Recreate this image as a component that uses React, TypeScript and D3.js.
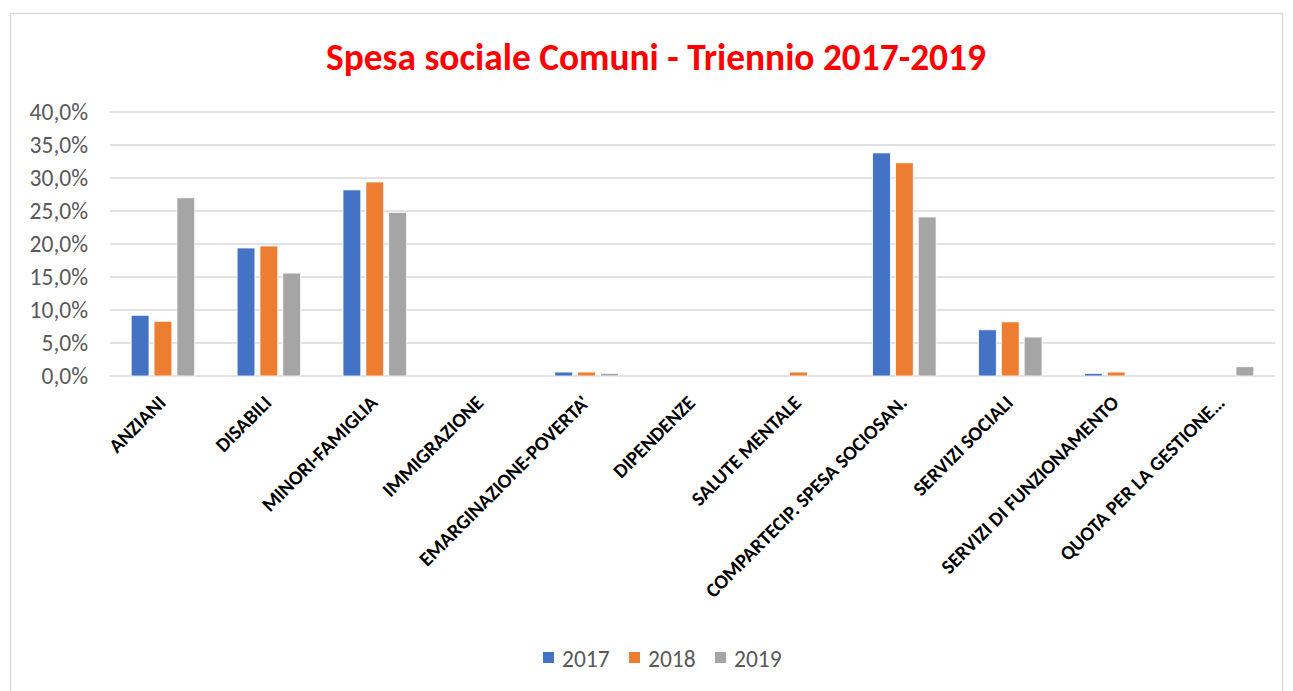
import React from "react";
import * as d3 from "d3";

const categories = [
  "ANZIANI",
  "DISABILI",
  "MINORI-FAMIGLIA",
  "IMMIGRAZIONE",
  "EMARGINAZIONE-POVERTA'",
  "DIPENDENZE",
  "SALUTE MENTALE",
  "COMPARTECIP. SPESA SOCIOSAN.",
  "SERVIZI SOCIALI",
  "SERVIZI DI FUNZIONAMENTO",
  "QUOTA PER LA GESTIONE…",
];
const years = ["2017", "2018", "2019"];
const colors = ["#4472c4", "#ed7d31", "#a5a5a5"];
const v2017 = [9.2, 19.4, 28.2, 0, 0.6, 0, 0, 33.8, 7.0, 0.4, 0];
const v2018 = [8.3, 19.7, 29.4, 0, 0.6, 0, 0.6, 32.3, 8.2, 0.6, 0];
const v2019 = [27.0, 15.6, 24.8, 0, 0.4, 0, 0, 24.1, 5.9, 0, 1.4];
const yTicks = [0, 5, 10, 15, 20, 25, 30, 35, 40];

const W = 1293;
const H = 691;
const left = 110;
const right = 1275;
const top = 112;
const bottom = 376;

export default function App() {
  const series = [v2017, v2018, v2019];
  const x = d3.scaleBand().domain(categories).range([left, right]).paddingInner(0.4).paddingOuter(0.2);
  const inner = d3.scaleBand().domain(years).range([0, x.bandwidth()]).paddingInner(0.22);
  const y = d3.scaleLinear().domain([0, 40]).range([bottom, top]);
  const fmt = (v: number) => v.toFixed(1).replace(".", ",") + "%";
  const font = "Carlito, Calibri, 'Open Sans', sans-serif";

  return (
    <svg width={W} height={H} style={{ position: "absolute", left: 0, top: 0 }}>
      <rect x={0} y={0} width={W} height={H} fill="#fff" />
      <rect x={10.5} y={13.5} width={1272} height={690} fill="#fff" stroke="#d9d9d9" strokeWidth={1.5} />
      <text x={656} y={70} textAnchor="middle" fill="#ff0000" fontFamily={font} fontWeight="bold" fontSize={37.4}>
        Spesa sociale Comuni - Triennio 2017-2019
      </text>
      {yTicks.map((t) => (
        <g key={t}>
          <line x1={left} x2={right} y1={y(t)} y2={y(t)} stroke="#d9d9d9" strokeWidth={1.5} />
          <text x={88} y={y(t) + 8} textAnchor="end" fill="#595959" fontFamily={font} fontSize={23.5}>
            {fmt(t)}
          </text>
        </g>
      ))}
      {categories.map((c, i) => (
        <g key={c} transform={`translate(${x(c)},0)`}>
          {series.map((s, j) =>
            s[i] > 0 ? (
              <rect
                key={j}
                x={inner(years[j])}
                y={y(s[i])}
                width={inner.bandwidth()}
                height={bottom - y(s[i])}
                fill={colors[j]}
                stroke="#fff"
                strokeWidth={0.8}
              />
            ) : null
          )}
        </g>
      ))}
      {categories.map((c) => {
        const cx = (x(c) as number) + x.bandwidth() / 2 + 4;
        return (
          <text
            key={c}
            transform={`translate(${cx},${bottom + 28}) rotate(-45)`}
            textAnchor="end"
            fill="#000"
            fontFamily={font}
            fontWeight="bold"
            fontSize={20}
          >
            {c}
          </text>
        );
      })}
      {years.map((yr, j) => {
        const lx = 543 + j * 86;
        return (
          <g key={yr}>
            <rect x={lx} y={652} width={11} height={11} fill={colors[j]} />
            <text x={lx + 19} y={667} fill="#595959" fontFamily={font} fontSize={23.5}>
              {yr}
            </text>
          </g>
        );
      })}
    </svg>
  );
}
